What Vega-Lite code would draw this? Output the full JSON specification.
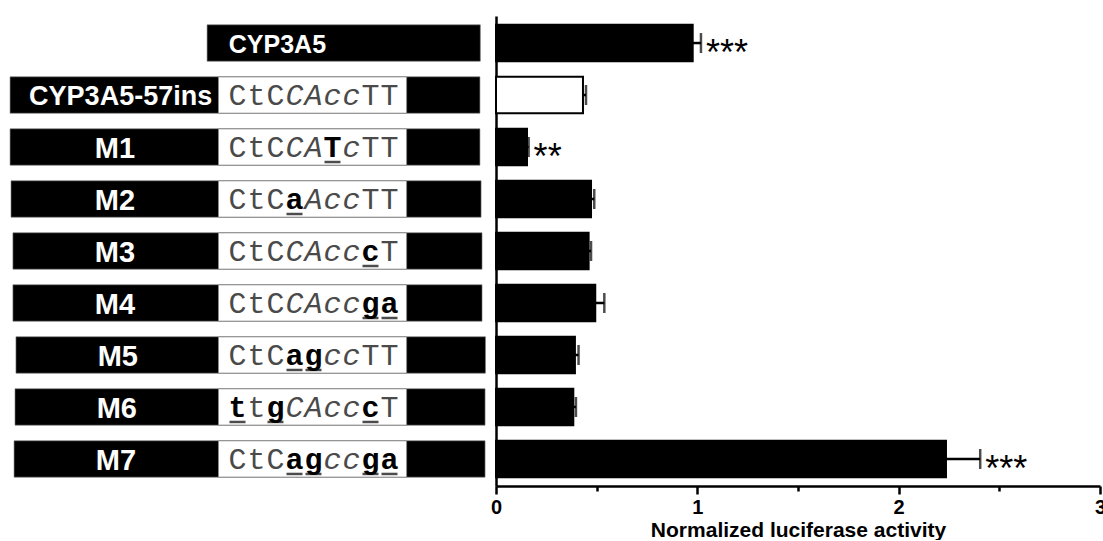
{
  "$schema": "https://vega.github.io/schema/vega-lite/v6.json",
  "padding": {"left": 0, "top": 16, "right": 0, "bottom": 0},
  "background": "white",
  "config": {"view": {"stroke": null}, "concat": {"spacing": 0}},
  "datasets": {
    "bars": [
      {"construct": "CYP3A5", "mean": 0.977, "hi": 1.018, "stars": "***"},
      {"construct": "CYP3A5-57ins", "mean": 0.432, "hi": 0.447, "stars": ""},
      {"construct": "M1", "mean": 0.154, "hi": 0.162, "stars": "**"},
      {"construct": "M2", "mean": 0.472, "hi": 0.488, "stars": ""},
      {"construct": "M3", "mean": 0.46, "hi": 0.472, "stars": ""},
      {"construct": "M4", "mean": 0.493, "hi": 0.538, "stars": ""},
      {"construct": "M5", "mean": 0.392, "hi": 0.41, "stars": ""},
      {"construct": "M6", "mean": 0.384, "hi": 0.397, "stars": ""},
      {"construct": "M7", "mean": 2.235, "hi": 2.405, "stars": "***"}
    ],
    "schem": [
      {"construct": "CYP3A5", "start": -0.6, "end": 13.78, "box_start": null, "box_end": null, "label_x": 3.1},
      {"construct": "CYP3A5-57ins", "start": -10.97, "end": 13.76, "box_start": 0.0, "box_end": 9.9, "label_x": -5.15},
      {"construct": "M1", "start": -10.97, "end": 13.76, "box_start": 0.0, "box_end": 9.9, "label_x": -5.45},
      {"construct": "M2", "start": -10.92, "end": 13.82, "box_start": 0.0, "box_end": 9.9, "label_x": -5.45},
      {"construct": "M3", "start": -10.82, "end": 13.87, "box_start": 0.0, "box_end": 9.9, "label_x": -5.45},
      {"construct": "M4", "start": -10.82, "end": 13.87, "box_start": 0.0, "box_end": 9.9, "label_x": -5.45},
      {"construct": "M5", "start": -10.66, "end": 14.05, "box_start": 0.0, "box_end": 9.9, "label_x": -5.3},
      {"construct": "M6", "start": -10.71, "end": 14.03, "box_start": 0.0, "box_end": 9.9, "label_x": -5.35},
      {"construct": "M7", "start": -10.76, "end": 14.03, "box_start": 0.0, "box_end": 9.9, "label_x": -5.4}
    ],
    "seq": [
      {"construct": "CYP3A5-57ins", "pos": 1, "letter": "C", "kind": "n"},
      {"construct": "CYP3A5-57ins", "pos": 2, "letter": "t", "kind": "n"},
      {"construct": "CYP3A5-57ins", "pos": 3, "letter": "C", "kind": "n"},
      {"construct": "CYP3A5-57ins", "pos": 4, "letter": "C", "kind": "i"},
      {"construct": "CYP3A5-57ins", "pos": 5, "letter": "A", "kind": "i"},
      {"construct": "CYP3A5-57ins", "pos": 6, "letter": "c", "kind": "i"},
      {"construct": "CYP3A5-57ins", "pos": 7, "letter": "c", "kind": "i"},
      {"construct": "CYP3A5-57ins", "pos": 8, "letter": "T", "kind": "n"},
      {"construct": "CYP3A5-57ins", "pos": 9, "letter": "T", "kind": "n"},
      {"construct": "M1", "pos": 1, "letter": "C", "kind": "n"},
      {"construct": "M1", "pos": 2, "letter": "t", "kind": "n"},
      {"construct": "M1", "pos": 3, "letter": "C", "kind": "n"},
      {"construct": "M1", "pos": 4, "letter": "C", "kind": "i"},
      {"construct": "M1", "pos": 5, "letter": "A", "kind": "i"},
      {"construct": "M1", "pos": 6, "letter": "T", "kind": "m"},
      {"construct": "M1", "pos": 7, "letter": "c", "kind": "i"},
      {"construct": "M1", "pos": 8, "letter": "T", "kind": "n"},
      {"construct": "M1", "pos": 9, "letter": "T", "kind": "n"},
      {"construct": "M2", "pos": 1, "letter": "C", "kind": "n"},
      {"construct": "M2", "pos": 2, "letter": "t", "kind": "n"},
      {"construct": "M2", "pos": 3, "letter": "C", "kind": "n"},
      {"construct": "M2", "pos": 4, "letter": "a", "kind": "m"},
      {"construct": "M2", "pos": 5, "letter": "A", "kind": "i"},
      {"construct": "M2", "pos": 6, "letter": "c", "kind": "i"},
      {"construct": "M2", "pos": 7, "letter": "c", "kind": "i"},
      {"construct": "M2", "pos": 8, "letter": "T", "kind": "n"},
      {"construct": "M2", "pos": 9, "letter": "T", "kind": "n"},
      {"construct": "M3", "pos": 1, "letter": "C", "kind": "n"},
      {"construct": "M3", "pos": 2, "letter": "t", "kind": "n"},
      {"construct": "M3", "pos": 3, "letter": "C", "kind": "n"},
      {"construct": "M3", "pos": 4, "letter": "C", "kind": "i"},
      {"construct": "M3", "pos": 5, "letter": "A", "kind": "i"},
      {"construct": "M3", "pos": 6, "letter": "c", "kind": "i"},
      {"construct": "M3", "pos": 7, "letter": "c", "kind": "i"},
      {"construct": "M3", "pos": 8, "letter": "c", "kind": "m"},
      {"construct": "M3", "pos": 9, "letter": "T", "kind": "n"},
      {"construct": "M4", "pos": 1, "letter": "C", "kind": "n"},
      {"construct": "M4", "pos": 2, "letter": "t", "kind": "n"},
      {"construct": "M4", "pos": 3, "letter": "C", "kind": "n"},
      {"construct": "M4", "pos": 4, "letter": "C", "kind": "i"},
      {"construct": "M4", "pos": 5, "letter": "A", "kind": "i"},
      {"construct": "M4", "pos": 6, "letter": "c", "kind": "i"},
      {"construct": "M4", "pos": 7, "letter": "c", "kind": "i"},
      {"construct": "M4", "pos": 8, "letter": "g", "kind": "m"},
      {"construct": "M4", "pos": 9, "letter": "a", "kind": "m"},
      {"construct": "M5", "pos": 1, "letter": "C", "kind": "n"},
      {"construct": "M5", "pos": 2, "letter": "t", "kind": "n"},
      {"construct": "M5", "pos": 3, "letter": "C", "kind": "n"},
      {"construct": "M5", "pos": 4, "letter": "a", "kind": "m"},
      {"construct": "M5", "pos": 5, "letter": "g", "kind": "m"},
      {"construct": "M5", "pos": 6, "letter": "c", "kind": "i"},
      {"construct": "M5", "pos": 7, "letter": "c", "kind": "i"},
      {"construct": "M5", "pos": 8, "letter": "T", "kind": "n"},
      {"construct": "M5", "pos": 9, "letter": "T", "kind": "n"},
      {"construct": "M6", "pos": 1, "letter": "t", "kind": "m"},
      {"construct": "M6", "pos": 2, "letter": "t", "kind": "n"},
      {"construct": "M6", "pos": 3, "letter": "g", "kind": "m"},
      {"construct": "M6", "pos": 4, "letter": "C", "kind": "i"},
      {"construct": "M6", "pos": 5, "letter": "A", "kind": "i"},
      {"construct": "M6", "pos": 6, "letter": "c", "kind": "i"},
      {"construct": "M6", "pos": 7, "letter": "c", "kind": "i"},
      {"construct": "M6", "pos": 8, "letter": "c", "kind": "m"},
      {"construct": "M6", "pos": 9, "letter": "T", "kind": "n"},
      {"construct": "M7", "pos": 1, "letter": "C", "kind": "n"},
      {"construct": "M7", "pos": 2, "letter": "t", "kind": "n"},
      {"construct": "M7", "pos": 3, "letter": "C", "kind": "n"},
      {"construct": "M7", "pos": 4, "letter": "a", "kind": "m"},
      {"construct": "M7", "pos": 5, "letter": "g", "kind": "m"},
      {"construct": "M7", "pos": 6, "letter": "c", "kind": "i"},
      {"construct": "M7", "pos": 7, "letter": "c", "kind": "i"},
      {"construct": "M7", "pos": 8, "letter": "g", "kind": "m"},
      {"construct": "M7", "pos": 9, "letter": "a", "kind": "m"}
    ]
  },
  "hconcat": [
    {
      "width": 490,
      "height": 470,
      "layer": [
        {
          "data": {"name": "schem"},
          "mark": {"type": "bar", "color": "black", "stroke": "#777", "strokeWidth": 0.6},
          "encoding": {
            "x": {"field": "start", "type": "quantitative", "scale": {"domain": [-11.5, 14.29], "nice": false, "zero": false}, "axis": null},
            "x2": {"field": "end"},
            "y": {"field": "construct", "type": "nominal", "scale": {"domain": ["CYP3A5", "CYP3A5-57ins", "M1", "M2", "M3", "M4", "M5", "M6", "M7"], "paddingInner": 0.3, "paddingOuter": 0.17}, "axis": null}
          }
        },
        {
          "data": {"name": "schem"},
          "transform": [{"filter": "datum.box_start != null"}],
          "mark": {"type": "bar", "color": "white", "stroke": "#8a8a8a", "strokeWidth": 1},
          "encoding": {
            "x": {"field": "box_start", "type": "quantitative"},
            "x2": {"field": "box_end"},
            "y": {"field": "construct", "type": "nominal"}
          }
        },
        {
          "data": {"name": "schem"},
          "mark": {"type": "text", "font": "Liberation Sans", "fontWeight": "bold", "color": "white", "baseline": "middle", "align": "center", "dy": 2},
          "encoding": {
            "x": {"field": "label_x", "type": "quantitative"},
            "y": {"field": "construct", "type": "nominal"},
            "text": {"field": "construct"},
            "size": {"condition": [{"test": "datum.construct === 'CYP3A5'", "value": 25}, {"test": "datum.construct === 'CYP3A5-57ins'", "value": 27}], "value": 29}
          }
        },
        {
          "data": {"name": "seq"},
          "transform": [{"filter": "datum.kind === 'n'"}],
          "mark": {"type": "text", "font": "Liberation Mono", "fontSize": 30, "color": "#4a4a4a", "baseline": "middle", "align": "center", "dy": 1},
          "encoding": {
            "x": {"field": "pos", "type": "quantitative"},
            "y": {"field": "construct", "type": "nominal"},
            "text": {"field": "letter"}
          }
        },
        {
          "data": {"name": "seq"},
          "transform": [{"filter": "datum.kind === 'i'"}],
          "mark": {"type": "text", "font": "Liberation Mono", "fontSize": 30, "fontStyle": "italic", "color": "#4a4a4a", "baseline": "middle", "align": "center", "dy": 1},
          "encoding": {
            "x": {"field": "pos", "type": "quantitative"},
            "y": {"field": "construct", "type": "nominal"},
            "text": {"field": "letter"}
          }
        },
        {
          "data": {"name": "seq"},
          "transform": [{"filter": "datum.kind === 'm'"}],
          "mark": {"type": "text", "font": "Liberation Mono", "fontSize": 30, "fontWeight": "bold", "color": "black", "baseline": "middle", "align": "center", "dy": 1},
          "encoding": {
            "x": {"field": "pos", "type": "quantitative"},
            "y": {"field": "construct", "type": "nominal"},
            "text": {"field": "letter"}
          }
        },
        {
          "data": {"name": "seq"},
          "transform": [{"filter": "datum.kind === 'm'"}],
          "mark": {"type": "tick", "orient": "horizontal", "thickness": 2.5, "size": 16, "color": "black", "yOffset": 15},
          "encoding": {
            "x": {"field": "pos", "type": "quantitative"},
            "y": {"field": "construct", "type": "nominal"}
          }
        }
      ]
    },
    {
      "width": 604,
      "height": 470,
      "data": {"name": "bars"},
      "encoding": {
        "y": {
          "field": "construct", "type": "nominal",
          "scale": {"domain": ["CYP3A5", "CYP3A5-57ins", "M1", "M2", "M3", "M4", "M5", "M6", "M7"], "paddingInner": 0.3, "paddingOuter": 0.17},
          "axis": {"domain": true, "domainColor": "black", "domainWidth": 2.5, "labels": false, "ticks": false, "title": null, "grid": false, "minExtent": 0, "maxExtent": 0, "offset": 0}
        }
      },
      "layer": [
        {
          "mark": {"type": "bar", "stroke": "black", "strokeWidth": 2},
          "encoding": {
            "x": {
              "field": "mean", "type": "quantitative",
              "scale": {"domain": [0, 3], "nice": false},
              "axis": {
                "values": [0, 0.5, 1, 1.5, 2, 2.5, 3],
                "labelExpr": "datum.value % 1 === 0 ? format(datum.value, 'd') : ''",
                "tickSize": {"condition": {"test": "datum.value % 1 === 0", "value": 8}, "value": 5},
                "tickWidth": 2.5, "tickColor": "black",
                "domainColor": "black", "domainWidth": 2.5,
                "labelFont": "Liberation Sans", "labelFontSize": 20, "labelFontWeight": "bold", "labelColor": "black",
                "labelPadding": 3, "labelFlush": false, "labelOverlap": false,
                "title": "Normalized luciferase activity",
                "titleFont": "Liberation Sans", "titleFontSize": 21, "titleFontWeight": "bold", "titleColor": "black", "titlePadding": 2,
                "grid": false
              }
            },
            "fill": {"condition": {"test": "datum.construct === 'CYP3A5-57ins'", "value": "white"}, "value": "black"}
          }
        },
        {
          "mark": {"type": "rule", "strokeWidth": 2.5, "color": "black"},
          "encoding": {
            "x": {"field": "mean", "type": "quantitative"},
            "x2": {"field": "hi"}
          }
        },
        {
          "mark": {"type": "tick", "thickness": 2.5, "size": 20, "color": "black"},
          "encoding": {
            "x": {"field": "hi", "type": "quantitative"}
          }
        },
        {
          "mark": {"type": "text", "align": "left", "baseline": "middle", "dx": 5, "dy": 11, "fontSize": 36, "font": "Liberation Sans", "color": "black"},
          "encoding": {
            "x": {"field": "hi", "type": "quantitative"},
            "text": {"field": "stars"}
          }
        }
      ]
    }
  ]
}
